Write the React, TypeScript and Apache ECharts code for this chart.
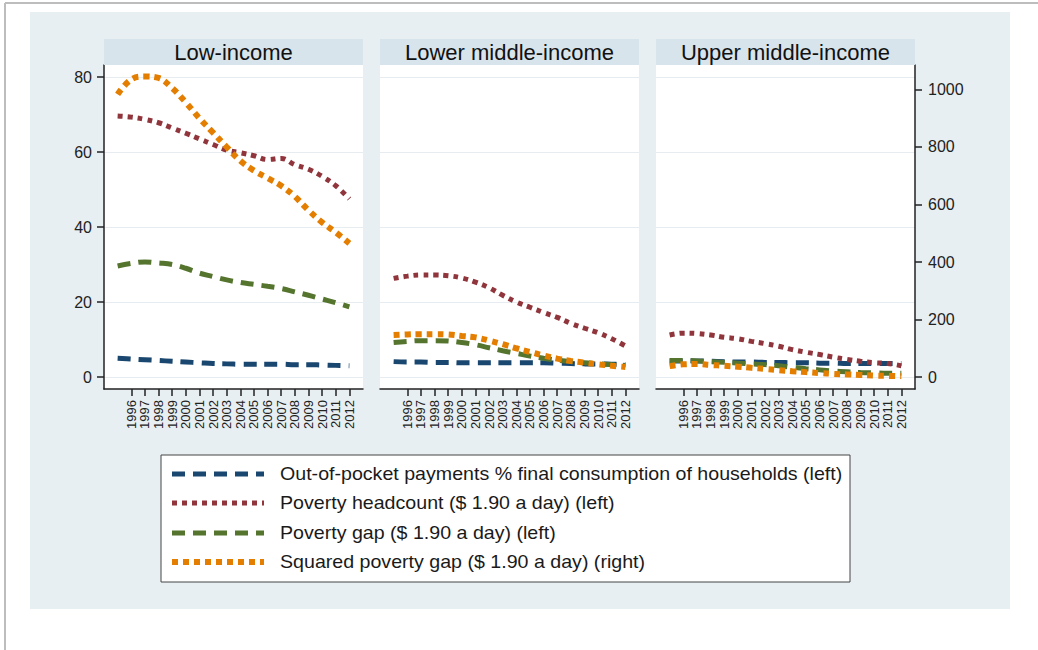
import React, { useEffect, useRef } from "react";
import * as echarts from "echarts";

const years = [1995, 1996, 1997, 1998, 1999, 2000, 2001, 2002, 2003, 2004, 2005, 2006, 2007, 2008, 2009, 2010, 2011, 2012];
const xTickYears = [1996, 1997, 1998, 1999, 2000, 2001, 2002, 2003, 2004, 2005, 2006, 2007, 2008, 2009, 2010, 2011, 2012];
const leftTicks = [0, 20, 40, 60, 80];
const rightTicks = [0, 200, 400, 600, 800, 1000];

const panelTitles = ["Low-income", "Lower middle-income", "Upper middle-income"];
const seriesNames = [
  "Out-of-pocket payments % final consumption of households (left)",
  "Poverty headcount ($ 1.90 a day) (left)",
  "Poverty gap ($ 1.90 a day) (left)",
  "Squared poverty gap ($ 1.90 a day) (right)",
];

// Low-income
const lowOop = [5.0, 4.8, 4.6, 4.4, 4.2, 4.0, 3.8, 3.6, 3.5, 3.4, 3.4, 3.4, 3.4, 3.3, 3.3, 3.2, 3.1, 3.0];
const lowHead = [69.6, 69.3, 68.7, 67.8, 66.4, 65.0, 63.5, 62.0, 60.5, 59.8, 59.0, 58.0, 58.3, 56.6, 55.4, 53.5, 51.0, 47.5];
const lowGap = [29.6, 30.3, 30.7, 30.4, 30.0, 29.0, 27.7, 26.8, 25.9, 25.2, 24.7, 24.2, 23.6, 22.7, 21.8, 20.8, 19.8, 18.7];
const lowSq = [983, 1035, 1045, 1040, 1005, 955, 900, 850, 800, 752, 718, 692, 665, 628, 580, 538, 503, 465];

// Lower middle-income
const lmOop = [4.1, 4.0, 4.0, 3.9, 3.9, 3.8, 3.8, 3.8, 3.8, 3.8, 3.8, 3.8, 3.7, 3.6, 3.5, 3.5, 3.4, 3.3];
const lmHead = [26.3, 26.9, 27.2, 27.2, 27.0, 26.4, 25.3, 23.8, 21.8, 20.0, 18.6, 17.2, 15.9, 14.3, 13.0, 11.8, 10.2, 8.3];
const lmGap = [9.2, 9.5, 9.7, 9.7, 9.6, 9.2, 8.6, 7.8, 7.0, 6.3, 5.6, 5.0, 4.5, 4.1, 3.8, 3.5, 3.3, 3.1];
const lmSq = [146, 148, 149, 149, 148, 143, 138, 127, 114, 100, 87, 75, 64, 56, 50, 44, 39, 35];

// Upper middle-income
const umOop = [4.3, 4.3, 4.3, 4.2, 4.1, 4.0, 4.0, 3.9, 3.9, 3.8, 3.8, 3.7, 3.7, 3.6, 3.6, 3.6, 3.6, 3.6];
const umHead = [11.2, 11.7, 11.6, 11.2, 10.6, 10.2, 9.5, 8.9, 8.2, 7.3, 6.6, 6.0, 5.3, 4.7, 4.2, 3.8, 3.6, 3.0];
const umGap = [4.4, 4.4, 4.3, 4.1, 3.9, 3.7, 3.5, 3.3, 3.0, 2.6, 2.2, 1.9, 1.6, 1.4, 1.2, 1.1, 1.0, 1.0];
const umSq = [38, 44, 45, 42, 39, 36, 32, 28, 24, 20, 17, 14, 11, 9, 7, 5, 4, 3];

const panelData = [
  [lowOop, lowHead, lowGap, lowSq],
  [lmOop, lmHead, lmGap, lmSq],
  [umOop, umHead, umGap, umSq],
];

const colors = ["#1a476f", "#90353b", "#55752f", "#e37e00"];
const dashes = [[13, 8], [5, 5], [13, 8], [6, 5]];
const widths = [5, 5, 5, 6];

const FONT = '"Liberation Sans", Arial, Helvetica, sans-serif';
const panelLefts = [104, 380, 656];
const panelWidth = 259;
const gridTop = 65;
const gridHeight = 324;

export default function App() {
  const ref = useRef<HTMLDivElement>(null);
  useEffect(() => {
    const chart = echarts.init(ref.current!, null, { renderer: "svg" });
    const axisColor = "#222";
    const grid = panelLefts.map((l) => ({
      left: l,
      top: gridTop,
      width: panelWidth,
      height: gridHeight,
      show: true,
      backgroundColor: "#ffffff",
      borderWidth: 0,
    }));
    const xAxis = panelLefts.map((_, i) => ({
      gridIndex: i,
      type: "value",
      min: 1994,
      max: 2013,
      axisLine: { show: true, onZero: false, lineStyle: { color: axisColor, width: 1.5 } },
      axisTick: { show: true, length: 7, customValues: xTickYears, lineStyle: { color: axisColor, width: 1.5 } },
      axisLabel: {
        customValues: xTickYears,
        rotate: 90,
        fontSize: 13,
        color: axisColor,
        margin: 11,
        fontFamily: FONT,
        formatter: (v: number) => String(v),
      },
      splitLine: { show: false },
    }));
    const yAxis: any[] = [];
    panelLefts.forEach((_, i) => {
      yAxis.push({
        gridIndex: i,
        type: "value",
        position: "left",
        min: -3.2,
        max: 83.2,
        axisLine: { show: i === 0, onZero: false, lineStyle: { color: axisColor, width: 1.5 } },
        axisTick: { show: i === 0, length: 7, customValues: leftTicks, lineStyle: { color: axisColor, width: 1.5 } },
        axisLabel: {
          show: i === 0,
          customValues: leftTicks,
          fontSize: 16,
          color: axisColor,
          margin: 12,
          fontFamily: FONT,
          formatter: (v: number) => String(v),
        },
        splitLine: { show: true, lineStyle: { color: "#e6ecef", width: 1 } },
      });
      yAxis.push({
        gridIndex: i,
        type: "value",
        position: "right",
        min: -41.7,
        max: 1085.2,
        axisLine: { show: i === 2, onZero: false, lineStyle: { color: axisColor, width: 1.5 } },
        axisTick: { show: i === 2, length: 7, customValues: rightTicks, lineStyle: { color: axisColor, width: 1.5 } },
        axisLabel: {
          show: i === 2,
          customValues: rightTicks,
          fontSize: 16,
          color: axisColor,
          margin: 13,
          fontFamily: FONT,
          formatter: (v: number) => String(v),
        },
        splitLine: { show: false },
      });
    });
    const series: any[] = [];
    panelData.forEach((arrs, i) => {
      arrs.forEach((vals, k) => {
        series.push({
          type: "line",
          name: seriesNames[k],
          xAxisIndex: i,
          yAxisIndex: k === 3 ? 2 * i + 1 : 2 * i,
          data: years.map((y, j) => [y, vals[j]]),
          smooth: 0.4,
          symbol: "none",
          lineStyle: { color: colors[k], width: widths[k], type: dashes[k], cap: "butt" },
          itemStyle: { color: colors[k] },
          z: 2 + k,
        });
      });
    });

    const legendRows = [474, 503, 533, 562];
    const graphic: any[] = [
      { type: "rect", z: -10, shape: { x: 30, y: 12, width: 980, height: 597 }, style: { fill: "#e8eff2" } },
      { type: "line", z: -9, shape: { x1: 5, y1: 3, x2: 1038, y2: 3 }, style: { stroke: "#bdbdbd", lineWidth: 2 } },
      { type: "line", z: -9, shape: { x1: 5, y1: 3, x2: 5, y2: 650 }, style: { stroke: "#bdbdbd", lineWidth: 2 } },
    ];
    panelLefts.forEach((l, i) => {
      graphic.push({ type: "rect", z: 5, shape: { x: l, y: 39, width: panelWidth, height: 26 }, style: { fill: "#d8e4eb" } });
      graphic.push({
        type: "text",
        z: 6,
        x: l + panelWidth / 2,
        y: 52,
        style: { text: panelTitles[i], fontSize: 22, fontFamily: FONT, fill: "#111", align: "center", verticalAlign: "middle" },
      });
    });
    graphic.push({ type: "rect", z: 5, shape: { x: 161, y: 455, width: 689, height: 127 }, style: { fill: "#ffffff", stroke: "#444", lineWidth: 1 } });
    seriesNames.forEach((n, k) => {
      graphic.push({
        type: "line",
        z: 6,
        shape: { x1: 172, y1: legendRows[k], x2: 264, y2: legendRows[k] },
        style: { stroke: colors[k], lineWidth: widths[k], lineDash: dashes[k] },
      });
      graphic.push({
        type: "text",
        z: 6,
        x: 280,
        y: legendRows[k],
        scaleX: 1.09,
        style: { text: n, fontSize: 18, fontFamily: FONT, fill: "#1a1a1a", verticalAlign: "middle" },
      });
    });

    chart.setOption({
      animation: false,
      backgroundColor: "#ffffff",
      grid,
      xAxis,
      yAxis,
      series,
      graphic,
    });
    return () => chart.dispose();
  }, []);
  return <div ref={ref} style={{ position: "fixed", left: 0, top: 0, width: 1038, height: 650 }} />;
}
